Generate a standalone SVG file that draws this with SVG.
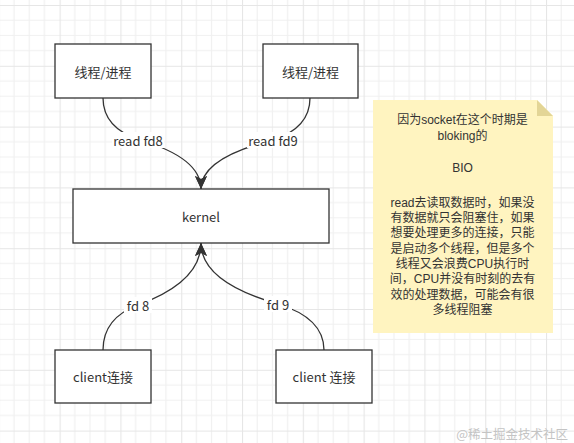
<svg xmlns="http://www.w3.org/2000/svg" width="574" height="443" viewBox="0 0 574 443">
<defs>
<pattern id="grid" patternUnits="userSpaceOnUse" x="-1.2" y="5" width="60.8" height="60.8">
<path d="M15.2,0V60.8M30.4,0V60.8M45.6,0V60.8M0,15.2H60.8M0,30.4H60.8M0,45.6H60.8" stroke="#f0f0f0" stroke-width="1.2" fill="none"/>
<path d="M0.5,0V60.8M0,0.5H60.8" stroke="#e6e6e6" stroke-width="1.2" fill="none"/>
</pattern>
<marker id="arr" markerUnits="userSpaceOnUse" markerWidth="14" markerHeight="13" refX="13" refY="6" orient="auto" viewBox="0 0 14 13">
<path d="M0,0 L13,6 L0,12 L3,6 Z" fill="#333"/>
</marker>
<style>
.box{fill:#fff;stroke:#333;stroke-width:1.3}
.t{font-family:"Noto Sans CJK SC","Noto Sans",sans-serif;font-size:13px;fill:#333;text-anchor:middle;dominant-baseline:central}
.n{font-family:"Liberation Sans","Noto Sans CJK SC",sans-serif;font-size:12px;fill:#333;text-anchor:middle}
.e{fill:none;stroke:#333;stroke-width:1.3}
.lb{fill:#fff}
</style>
</defs>
<rect width="574" height="443" fill="#fff"/>
<rect width="574" height="443" fill="url(#grid)"/>

<g id="edges">
<path class="e" d="M103,98 Q103,128 140,140 Q201,158 201,189" marker-end="url(#arr)"/>
<path class="e" d="M310,98 Q310,128 273,140 Q201,158 201,189" marker-end="url(#arr)"/>
<path class="e" d="M103,350 Q103,318 138,305 Q201,282 201,243" marker-end="url(#arr)"/>
<path class="e" d="M324,350 Q324,318 278,304 Q201,282 201,243" marker-end="url(#arr)"/>
<rect class="lb" x="112" y="132" width="52" height="16"/>
<text class="t" x="138" y="140">read fd8</text>
<rect class="lb" x="247" y="132" width="52" height="16"/>
<text class="t" x="273" y="140">read fd9</text>
<rect class="lb" x="124" y="297" width="28" height="16"/>
<text class="t" x="138" y="305">fd 8</text>
<rect class="lb" x="264" y="296" width="28" height="16"/>
<text class="t" x="278" y="304">fd 9</text>
</g>

<g id="thread1">
<rect class="box" x="55" y="44" width="96" height="54"/>
<text class="t" x="103" y="71">线程/进程</text>
</g>
<g id="thread2">
<rect class="box" x="263" y="44" width="95" height="54"/>
<text class="t" x="310.5" y="71">线程/进程</text>
</g>
<g id="kernel">
<rect class="box" x="73" y="189" width="256" height="54"/>
<text class="t" x="201" y="216">kernel</text>
</g>
<g id="client1">
<rect class="box" x="55" y="350" width="96" height="53"/>
<text class="t" x="103" y="376.5">client连接</text>
</g>
<g id="client2">
<rect class="box" x="276" y="350" width="96" height="53"/>
<text class="t" x="324" y="376.5">client 连接</text>
</g>

<g id="note">
<path d="M373,100 H537 L553,116 V333 H373 Z" fill="#fff4c0"/>
<path d="M537,100 L553,116 H537 Z" fill="#e3d596"/>
<text class="n" x="462.5" y="124.3"><tspan x="462.5">因为socket在这个时期是</tspan><tspan x="462.5" dy="16">bloking的</tspan><tspan x="462.5" dy="32">BIO</tspan><tspan x="462.5" dy="34.5">read去读取数据时，如果没</tspan><tspan x="462.5" dy="15.3">有数据就只会阻塞住，如果</tspan><tspan x="462.5" dy="15.3">想要处理更多的连接，只能</tspan><tspan x="462.5" dy="15.3">是启动多个线程，但是多个</tspan><tspan x="462.5" dy="15.3">线程又会浪费CPU执行时</tspan><tspan x="462.5" dy="15.3">间，CPU并没有时刻的去有</tspan><tspan x="462.5" dy="15.3">效的处理数据，可能会有很</tspan><tspan x="462.5" dy="15.8">多线程阻塞</tspan></text>
</g>

<text x="568" y="433" font-family="'Noto Sans CJK SC','Noto Sans',sans-serif" font-size="12.5" fill="#c4c4c4" text-anchor="end" dominant-baseline="central">@稀土掘金技术社区</text>
</svg>
